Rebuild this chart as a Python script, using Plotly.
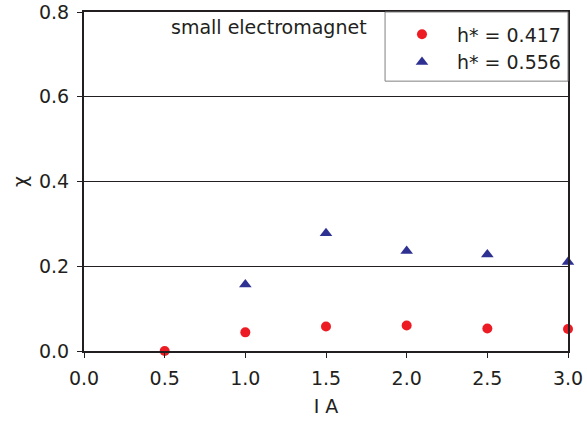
import plotly.graph_objects as go

# Current in amperes and measured susceptibility for two fill heights
current_a = [0.5, 1.0, 1.5, 2.0, 2.5, 3.0]
chi_h417 = [0.0, 0.044, 0.058, 0.060, 0.053, 0.052]

current_b = [1.0, 1.5, 2.0, 2.5, 3.0]
chi_h556 = [0.157, 0.278, 0.236, 0.228, 0.210]

x_ticks = [0.0, 0.5, 1.0, 1.5, 2.0, 2.5, 3.0]
y_ticks = [0.0, 0.2, 0.4, 0.6, 0.8]

FONT = "DejaVu Sans"
INK = "#231f20"

fig = go.Figure()
fig.add_trace(go.Scatter(
    x=current_a, y=chi_h417, mode="markers", name="h* = 0.417",
    marker=dict(symbol="circle", size=10, color="#ed1c24"),
    cliponaxis=False,
))
fig.add_trace(go.Scatter(
    x=current_b, y=chi_h556, mode="markers", name="h* = 0.556",
    marker=dict(symbol="triangle-up", size=11, color="#2e3192"),
    cliponaxis=False,
))

axis_common = dict(
    showline=True, linecolor=INK, linewidth=2, mirror=True,
    ticks="outside", ticklen=5, tickcolor=INK, tickwidth=1,
    zeroline=False, automargin=False,
    tickfont=dict(family=FONT, size=19, color=INK),
)

fig.update_xaxes(
    range=[0, 3], tickvals=x_ticks, ticktext=[f"{v:.1f}" for v in x_ticks],
    showgrid=False, ticklabelstandoff=4,
    title=dict(text="I A", font=dict(family=FONT, size=19, color=INK), standoff=12),
    **axis_common,
)
fig.update_yaxes(
    range=[0, 0.8], tickvals=y_ticks, ticktext=[f"{v:.1f}" for v in y_ticks],
    showgrid=True, gridcolor=INK, gridwidth=1,
    title=dict(text="χ", font=dict(family=FONT, size=19, color=INK), standoff=6),
    ticklabelstandoff=4,
    **axis_common,
)

# Legend frame
fig.add_shape(
    type="rect", xref="paper", yref="paper",
    x0=0.622, x1=1.0, y0=0.796, y1=1.0,
    line=dict(color="#808080", width=1), fillcolor="white", layer="above",
)

fig.add_annotation(
    text="small electromagnet", xref="paper", yref="paper",
    x=0.1756, y=0.956, xanchor="left", yanchor="middle", showarrow=False,
    font=dict(family=FONT, size=19, color=INK),
)

fig.update_layout(
    width=587, height=427,
    margin=dict(l=84, r=19, t=12, b=76),
    paper_bgcolor="white", plot_bgcolor="white",
    showlegend=True,
    legend=dict(
        x=0.626, y=0.99, xanchor="left", yanchor="top",
        bgcolor="rgba(0,0,0,0)", borderwidth=0,
        font=dict(family=FONT, size=19, color=INK),
        itemwidth=60, tracegroupgap=0,
    ),
)

fig.write_html("out.html")
